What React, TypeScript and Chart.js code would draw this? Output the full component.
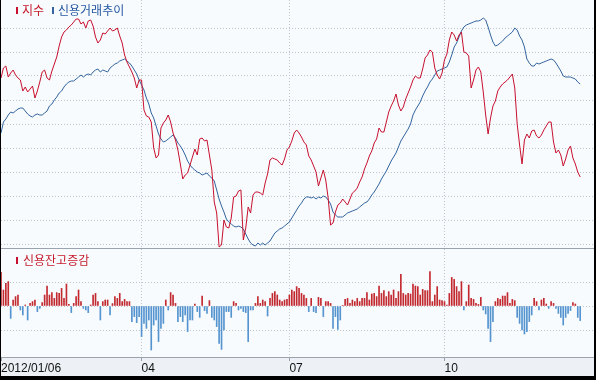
import React, { useEffect, useRef } from 'react';
import { Chart, registerables } from 'chart.js';

Chart.register(...registerables);

// x positions are trading-day indices starting at 2012/01/06
const tickIndex = [0, 58, 119, 183];
const tickLabels = ['2012/01/06', '04', '07', '10'];

// 지수 (index)
const indexValues = [
  523, 528, 529, 523.5, 525.5, 527, 524.5, 523, 522, 516.5,
  518.5, 516, 517.5, 519, 513, 516.5, 521, 526, 527, 523,
  522, 526.5, 530, 533.5, 539, 543.5, 546, 547, 548.5, 549.5,
  551, 552.5, 552.5, 550, 551, 548, 551.5, 552, 549, 543.5,
  540.5, 542, 545.5, 545, 546.5, 548, 546.5, 547, 548, 544,
  540.5, 534.5, 531, 528.5, 526, 523, 518, 522, 522, 507,
  504, 503.5, 501, 488, 483, 484.5, 498, 500.5, 502, 504.5,
  501, 495.5, 492, 487, 480, 472.5, 474.5, 475.5, 479.5, 483.5,
  487.5, 484.5, 492.5, 493, 491.5, 492, 484.5, 477, 461, 455.5,
  438.5, 439.5, 452, 448.5, 448, 453, 463.5, 464, 466.5, 467,
  442, 448, 458.5, 455.5, 464.5, 466, 466, 465.5, 464.5, 470.5,
  475, 482, 483, 482.5, 482, 480.5, 479.5, 482.5, 487, 488.5,
  491.5, 495.5, 497, 495.5, 493.5, 491, 489.5, 484, 482, 479,
  476, 469, 473, 477, 472, 463, 449.5, 450.5, 456, 459.5,
  460.5, 462.5, 461, 459.5, 462.5, 465.5, 466.5, 468, 471, 473.5,
  477.5, 480.5, 484, 486.5, 490.5, 492.5, 498, 496, 496, 501,
  506, 509, 511.5, 515, 509.5, 506.5, 508.5, 512.5, 515.5, 518.5,
  522, 524, 523, 523, 527.5, 533, 534.5, 537, 536, 528,
  524.5, 522.5, 525.5, 532, 535, 542, 546, 544.5, 541.5, 544.5,
  546, 536, 535.5, 534, 518, 522, 527, 528.5, 526, 516,
  504.5, 495, 503, 509, 511.5, 516.5, 518.5, 520, 521, 522,
  523.5, 525, 518, 500, 489.5, 480, 492, 495, 493, 496.5,
  497, 494, 493, 494.5, 497, 499, 501, 501, 491, 485.5,
  487, 484.5, 479, 482.5, 487, 489, 483, 480, 476, 473.5,
];

// 신용거래추이 (credit balance trend)
const creditValues = [
  17220, 17440, 17500, 17580, 17640, 17620, 17660, 17700, 17720, 17720,
  17660, 17600, 17560, 17540, 17580, 17600, 17580, 17580, 17620, 17660,
  17760, 17800, 17880, 17940, 18020, 18060, 18140, 18200, 18240, 18260,
  18260, 18300, 18340, 18380, 18340, 18380, 18400, 18380, 18440, 18480,
  18500, 18440, 18480, 18460, 18440, 18520, 18560, 18600, 18620, 18660,
  18680, 18700, 18660, 18620, 18560, 18480, 18400, 18280, 18180, 18080,
  17920, 17800, 17620, 17520, 17360, 17200, 17100, 17040, 17060, 17100,
  17140, 17180, 17120, 17020, 16960, 16880, 16780, 16660, 16580, 16520,
  16480, 16440, 16420, 16380, 16400, 16420, 16360, 16320, 16260, 16080,
  15900, 15760, 15640, 15500, 15440, 15400, 15360, 15340, 15360, 15340,
  15300, 15200, 15100, 15020, 14980, 14960, 15020, 14980, 15020, 14980,
  15020, 15060, 15140, 15220, 15260, 15300, 15320, 15360, 15400, 15440,
  15520, 15600, 15680, 15760, 15820, 15900, 15940, 15940, 15920, 15940,
  15900, 15940, 15920, 15960, 15940, 15880, 15800, 15640, 15580, 15540,
  15540, 15540, 15580, 15620, 15640, 15660, 15680, 15700, 15740, 15780,
  15820, 15840, 15900, 15980, 16040, 16120, 16200, 16300, 16380, 16460,
  16560, 16660, 16740, 16820, 16940, 17060, 17140, 17220, 17300, 17400,
  17580, 17680, 17760, 17840, 17960, 18060, 18140, 18240, 18300, 18380,
  18460, 18480, 18500, 18520, 18540, 18640, 18780, 18940, 19020, 19140,
  19260, 19340, 19380, 19400, 19420, 19440, 19460, 19460, 19480, 19520,
  19480, 19340, 19180, 19040, 18960, 18980, 19020, 19060, 19120, 19160,
  19200, 19240, 19320, 19280, 19160, 19080, 18940, 18700, 18620, 18560,
  18560, 18620, 18600, 18620, 18640, 18660, 18680, 18700, 18680, 18620,
  18540, 18460, 18360, 18340, 18340, 18340, 18320, 18300, 18240, 18200,
];

// 신용잔고증감 (daily change of credit balance)
const creditChange = [
  168, 80, 113, 122, -62, 30, 47, 55, -20, -45,
  5, -70, 13, 22, 30, -28, -12, 17, 55, 100,
  55, 67, 38, 67, 63, 88, 38, 110, 8, -33,
  13, 47, 80, 22, -12, -20, -33, 5, 55, 63,
  22, -70, 22, 30, 30, -45, 12, 47, 38, 63,
  22, 33, 22, 22, -78, -53, -83, -53, -153, -87,
  -112, -70, -220, -95, -70, -178, -112, -87, 30, -20,
  67, 55, 13, -78, -53, -78, -45, -128, -70, -70,
  10, -28, -57, 50, -23, -37, 27, -57, -70, -103,
  -187, -217, -120, -28, -28, -57, 22, 13, -20, -12,
  -28, -33, -178, -20, -20, 13, 47, 13, 30, 22,
  -50, 38, 63, 72, 55, 30, 22, 30, 33, 55,
  80, 72, 97, 88, 63, 55, 38, -28, 38, -28,
  -33, 43, 38, -53, 22, 22, 13, -112, -53, -117,
  -70, 3, 33, 38, 13, 30, 22, 38, 22, 38,
  38, 67, 30, 60, 63, 47, 100, 63, 77, 47,
  72, 55, 80, 38, 72, 158, 63, 55, 63, 60,
  110, 100, 97, 55, 83, 77, 77, 172, 22, 55,
  97, 30, 27, 22, 5, 63, 143, 133, 97, 72,
  122, -20, 22, 105, 38, 33, 13, 8, 43, -20,
  -40, -112, -178, -78, 22, 38, 33, 50, 50, 67,
  13, 33, 27, -57, -87, -120, -140, -128, -78, -45,
  38, 22, -20, 30, 38, 10, -12, 22, 13, -12,
  -37, -57, -95, -57, -37, -23, 17, 10, -57, -73,
];

const indexGrid = [440, 452, 464, 476, 488, 500, 512, 524, 536, 548];
const changeGrid = [-120, 0, 120];

const X_MAX = 244.7;
const PLOT_BG = '#f8fbfe';
const STRIP_BG = '#edf0f4';
const GRID = '#c0c6cd';
const RED = '#c8102e';
const BLUE = '#33649f';
const BAR_RED = '#c22a30';
const BAR_BLUE = '#5594cf';

const bgPlugin = {
  id: 'plotBg',
  beforeDraw(chart: any) {
    const { ctx, chartArea: a } = chart;
    ctx.save();
    ctx.fillStyle = PLOT_BG;
    ctx.fillRect(a.left, a.top, a.right - a.left, a.bottom - a.top);
    ctx.restore();
  },
};

export default function App() {
  const topRef = useRef<HTMLCanvasElement>(null);
  const botRef = useRef<HTMLCanvasElement>(null);

  useEffect(() => {
    const top = new Chart(topRef.current as HTMLCanvasElement, {
      type: 'line',
      data: {
        datasets: [
          {
            label: '지수',
            data: indexValues.map((v, i) => ({ x: i, y: v })),
            borderColor: RED,
            borderWidth: 1,
            pointRadius: 0,
            tension: 0,
            yAxisID: 'y',
          },
          {
            label: '신용거래추이',
            data: creditValues.map((v, i) => ({ x: i, y: v })),
            borderColor: BLUE,
            borderWidth: 1,
            pointRadius: 0,
            tension: 0,
            yAxisID: 'y2',
          },
        ],
      },
      options: {
        responsive: false,
        animation: false,
        events: [],
        layout: { padding: 0 },
        plugins: { legend: { display: false }, tooltip: { enabled: false } },
        scales: {
          x: {
            type: 'linear',
            min: 0,
            max: X_MAX,
            afterBuildTicks: (s: any) => {
              s.ticks = tickIndex.slice(1).map((v) => ({ value: v }));
            },
            ticks: { display: false },
            grid: { color: GRID, drawTicks: false, lineWidth: 1 },
            border: { display: false, dash: [1, 2] },
          },
          y: {
            type: 'linear',
            min: 438,
            max: 562,
            afterBuildTicks: (s: any) => {
              s.ticks = indexGrid.map((v) => ({ value: v }));
            },
            ticks: { display: false },
            grid: { color: GRID, drawTicks: false, lineWidth: 1 },
            border: { display: false, dash: [1, 2] },
          },
          y2: { type: 'linear', display: false, min: 14920, max: 19880 },
        },
      } as any,
      plugins: [bgPlugin],
    });

    const bot = new Chart(botRef.current as HTMLCanvasElement, {
      type: 'bar',
      data: {
        datasets: [
          {
            label: '신용잔고증감',
            data: creditChange.map((v, i) => ({ x: i, y: v })),
            backgroundColor: creditChange.map((v) => (v >= 0 ? BAR_RED : BAR_BLUE)),
            borderWidth: 0,
            barThickness: 1,
          },
        ],
      },
      options: {
        responsive: false,
        animation: false,
        events: [],
        layout: { padding: 0 },
        plugins: { legend: { display: false }, tooltip: { enabled: false } },
        scales: {
          x: {
            type: 'linear',
            min: 0,
            max: X_MAX,
            offset: false,
            afterBuildTicks: (s: any) => {
              s.ticks = tickIndex.map((v) => ({ value: v }));
            },
            afterFit: (s: any) => {
              s.height = 19;
            },
            ticks: {
              display: true,
              autoSkip: false,
              maxRotation: 0,
              minRotation: 0,
              align: 'start',
              padding: 0,
              color: '#111',
              font: { family: "'Liberation Sans', Arial, sans-serif", size: 12 },
              callback: (v: any) => tickLabels[tickIndex.indexOf(Number(v))],
            },
            grid: {
              offset: false,
              color: (c: any) => (c.tick && c.tick.value === 0 ? 'rgba(0,0,0,0)' : GRID),
              tickColor: '#98a1ab',
              tickLength: 4,
              drawTicks: true,
              lineWidth: 1,
            },
            border: { display: true, color: '#9ba4ae', width: 1, dash: [1, 2] },
          },
          y: {
            type: 'linear',
            min: -255,
            max: 285,
            afterBuildTicks: (s: any) => {
              s.ticks = changeGrid.map((v) => ({ value: v }));
            },
            ticks: { display: false },
            grid: { color: GRID, drawTicks: false, lineWidth: 1 },
            border: { display: false, dash: [1, 2] },
          },
        },
      } as any,
      plugins: [bgPlugin],
    });

    return () => {
      top.destroy();
      bot.destroy();
    };
  }, []);

  const legendFont: React.CSSProperties = {
    position: 'absolute',
    fontFamily: "'Noto Sans CJK KR', sans-serif",
    fontSize: 12,
    lineHeight: '12px',
    whiteSpace: 'nowrap',
  };

  return (
    <div style={{ position: 'fixed', left: 0, top: 0, width: 596, height: 380, background: '#000' }}>
      <div
        style={{
          position: 'absolute',
          left: 1,
          top: 0,
          width: 593,
          height: 376,
          background: STRIP_BG,
          overflow: 'hidden',
        }}
      >
        <canvas ref={topRef} width={593} height={248} style={{ position: 'absolute', left: 0, top: 0, display: 'block' }} />
        <div style={{ position: 'absolute', left: 0, top: 248, width: 593, height: 1, background: '#9ba4ae' }} />
        <canvas ref={botRef} width={593} height={127} style={{ position: 'absolute', left: 0, top: 249, display: 'block' }} />

        <div style={{ position: 'absolute', left: 15, top: 7, width: 2, height: 7, background: RED }} />
        <span style={{ ...legendFont, left: 21, top: 4, color: '#c41a2a' }}>지수</span>
        <div style={{ position: 'absolute', left: 51, top: 7, width: 2, height: 7, background: BLUE }} />
        <span style={{ ...legendFont, left: 57, top: 4, color: '#24579f' }}>신용거래추이</span>

        <div style={{ position: 'absolute', left: 15, top: 257, width: 2, height: 7, background: RED }} />
        <span style={{ ...legendFont, left: 22, top: 254, color: '#c41a2a' }}>신용잔고증감</span>
      </div>
    </div>
  );
}
